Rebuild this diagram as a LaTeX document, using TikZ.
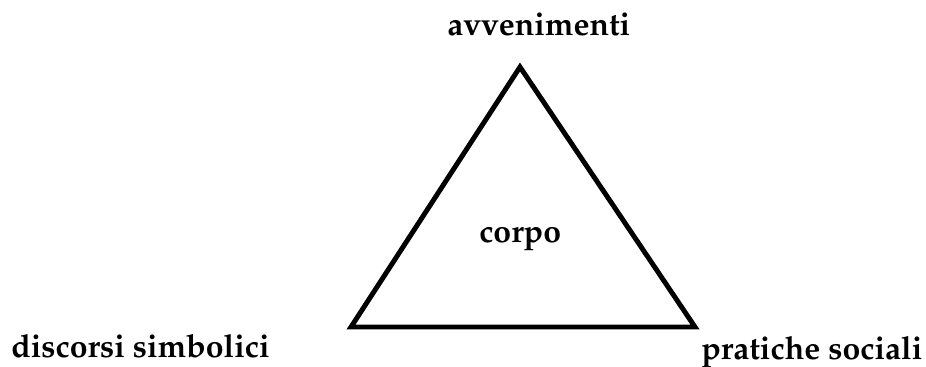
\documentclass[tikz,border=0pt]{standalone}
\usepackage[T1]{fontenc}
\usepackage{mathpazo}
\usepackage{tikz}
\usetikzlibrary{positioning, calc}

\tikzset{
    vertexlabel/.style={font=\fontsize{24}{28}\selectfont\bfseries, inner sep=0pt, anchor=base west},
    side/.style={line width=3.7pt, line join=miter}
}

\begin{document}
\begin{tikzpicture}[x=0.75pt, y=-0.75pt]
    % Canvas
    \useasboundingbox (0,0) rectangle (926,367);

    % Triangle vertices
    \coordinate (top) at (520,67);
    \coordinate (left) at (351,327);
    \coordinate (right) at (695,327);

    % Triangle
    \draw[side] (top) -- (left) -- (right) -- cycle;

    % Labels
    \node[vertexlabel] (avv) at (447,36) {avvenimenti};
    \node[vertexlabel] (corpo) at (479,243) {corpo};
    \node[vertexlabel] (disc) at (11,358) {discorsi simbolici};
    \node[vertexlabel] (prat) at (701,359) {pratiche sociali};
\end{tikzpicture}
\end{document}
